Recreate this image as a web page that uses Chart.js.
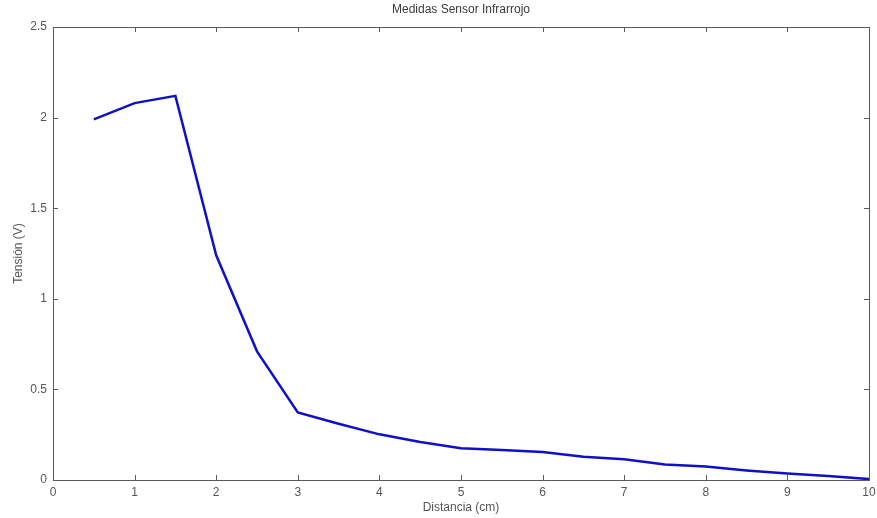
<!DOCTYPE html>
<html>
<head>
<meta charset="utf-8">
<title>Medidas Sensor Infrarrojo</title>
<script src="https://cdn.jsdelivr.net/npm/chart.js@4.4.0/dist/chart.umd.min.js"></script>
<style>
  html, body { margin: 0; padding: 0; background: #fff; }
  canvas { display: block; }
</style>
</head>
<body>
<canvas id="sensorChart" width="877" height="518"></canvas>
<script>
// --- Data ---
const distances = [0.5, 1, 1.5, 2, 2.5, 3, 3.5, 4, 4.5, 5, 5.5, 6, 6.5, 7, 7.5, 8, 8.5, 9, 9.5, 10];
const voltages  = [1.99, 2.08, 2.12, 1.24, 0.71, 0.373, 0.31, 0.252, 0.21, 0.175, 0.165, 0.155, 0.128, 0.114, 0.085, 0.074, 0.053, 0.036, 0.022, 0.005];
const xTicks = [0, 1, 2, 3, 4, 5, 6, 7, 8, 9, 10];
const yTicks = [0, 0.5, 1, 1.5, 2, 2.5];

const AXIS_COLOR = '#5a5a5a';
const TEXT_COLOR = '#555';
const FONT = '"Liberation Sans", Arial, sans-serif';

// MATLAB style box with ticks pointing inwards on all four sides
const boxPlugin = {
  id: 'matlabBox',
  afterDraw(chart) {
    const { ctx, chartArea: a, scales } = chart;
    const len = 5;
    ctx.save();
    ctx.strokeStyle = AXIS_COLOR;
    ctx.lineWidth = 1;
    ctx.strokeRect(a.left + 0.5, a.top + 0.5, a.right - a.left, a.bottom - a.top);
    ctx.beginPath();
    xTicks.forEach(v => {
      const px = Math.round(scales.x.getPixelForValue(v)) + 0.5;
      ctx.moveTo(px, a.bottom); ctx.lineTo(px, a.bottom - len);
      ctx.moveTo(px, a.top); ctx.lineTo(px, a.top + len);
    });
    yTicks.forEach(v => {
      const py = Math.round(scales.y.getPixelForValue(v)) + 0.5;
      ctx.moveTo(a.left, py); ctx.lineTo(a.left + len, py);
      ctx.moveTo(a.right, py); ctx.lineTo(a.right - len, py);
    });
    ctx.stroke();
    ctx.restore();
  }
};

const bgPlugin = {
  id: 'whiteBg',
  beforeDraw(chart) {
    const ctx = chart.ctx;
    ctx.save();
    ctx.fillStyle = '#fff';
    ctx.fillRect(0, 0, chart.width, chart.height);
    ctx.restore();
  }
};

const points = distances.map((d, i) => ({ x: d, y: voltages[i] }));

new Chart(document.getElementById('sensorChart'), {
  type: 'line',
  data: {
    datasets: [{
      label: 'Tensión',
      data: points,
      borderColor: '#1010c8',
      borderWidth: 2.5,
      pointRadius: 0,
      tension: 0,
      fill: false
    }]
  },
  options: {
    responsive: false,
    animation: false,
    layout: { padding: { left: 0, right: 0, top: 0, bottom: 0 } },
    plugins: {
      legend: { display: false },
      tooltip: { enabled: false },
      title: {
        display: true,
        fullSize: false,
        text: 'Medidas Sensor Infrarrojo',
        color: '#3a3a3a',
        font: { family: FONT, size: 12, weight: 'normal', lineHeight: 1.2 },
        padding: { top: 2, bottom: 10.6 }
      }
    },
    scales: {
      x: {
        type: 'linear',
        min: 0, max: 10,
        afterFit(scale) {
          scale.height = 38;
          scale.paddingLeft = 0;
          scale.paddingRight = 8;
        },
        afterBuildTicks(scale) { scale.ticks = xTicks.map(v => ({ value: v })); },
        grid: { drawOnChartArea: false, drawTicks: false },
        border: { display: false },
        ticks: { color: TEXT_COLOR, padding: 5, font: { family: FONT, size: 12 }, maxRotation: 0 },
        title: {
          display: true, text: 'Distancia (cm)', color: TEXT_COLOR,
          font: { family: FONT, size: 12, lineHeight: 1.2 },
          padding: { top: 0, bottom: 3 }
        }
      },
      y: {
        type: 'linear',
        min: 0, max: 2.5,
        afterFit(scale) { scale.width = 53; },
        afterBuildTicks(scale) { scale.ticks = yTicks.map(v => ({ value: v })); },
        grid: { drawOnChartArea: false, drawTicks: false },
        border: { display: false },
        ticks: {
          color: TEXT_COLOR, padding: 6, font: { family: FONT, size: 12 },
          callback: v => String(v)
        },
        title: {
          display: true, text: 'Tensión (V)', color: TEXT_COLOR,
          font: { family: FONT, size: 12, lineHeight: 1.2 },
          padding: { top: 11, bottom: 0 }
        }
      }
    }
  },
  plugins: [bgPlugin, boxPlugin]
});
</script>
</body>
</html>
